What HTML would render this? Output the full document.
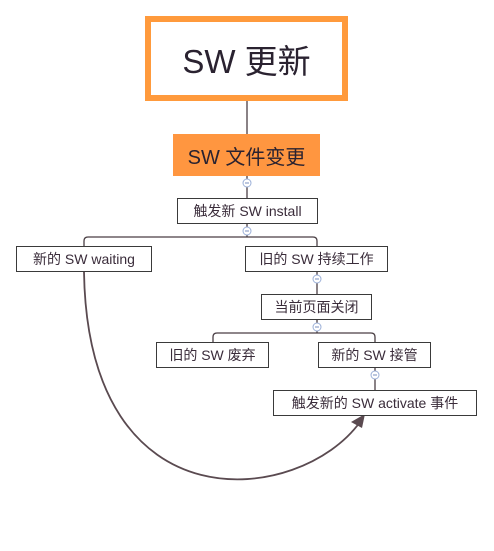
<!DOCTYPE html>
<html><head><meta charset="utf-8"><style>
body{margin:0;width:494px;height:551px;background:#fff;position:relative;overflow:hidden;font-family:"Liberation Sans","Noto Sans CJK SC",sans-serif;color:#3a2c3a}
.b{position:absolute;box-sizing:border-box;border:1px solid #3a3a3a;background:#fff;display:flex;align-items:center;justify-content:center;font-size:14px;white-space:nowrap}
</style></head><body>
<svg width="494" height="551" style="position:absolute;left:0;top:0">
<g stroke="#4a3f44" stroke-width="1.3" fill="none">
<line x1="247" y1="101" x2="247" y2="134"/>
<line x1="247" y1="176" x2="247" y2="198"/>
<line x1="247" y1="224" x2="247" y2="237"/>
<path d="M84,246 V241 Q84,237 88,237 H313 Q317,237 317,241 V246"/>
<line x1="317" y1="272" x2="317" y2="294"/>
<line x1="317" y1="320" x2="317" y2="333"/>
<path d="M213,342 V337 Q213,333 217,333 H371 Q375,333 375,337 V342"/>
<line x1="375" y1="368" x2="375" y2="390"/>
<path d="M84,272 C88,530 300,505 360,422" stroke-width="1.8" stroke="#5a4a50"/>
</g>
<polygon points="365,414 351,422 362,428" fill="#5a4a50"/>
<g fill="#fff" stroke="#9bb0d8" stroke-width="1">
<circle cx="247" cy="183" r="4"/><circle cx="247" cy="231" r="4"/>
<circle cx="317" cy="279" r="4"/><circle cx="317" cy="327" r="4"/><circle cx="375" cy="375" r="4"/>
</g>
<g stroke="#7a8fbf" stroke-width="1">
<line x1="245" y1="183" x2="249" y2="183"/><line x1="245" y1="231" x2="249" y2="231"/>
<line x1="315" y1="279" x2="319" y2="279"/><line x1="315" y1="327" x2="319" y2="327"/><line x1="373" y1="375" x2="377" y2="375"/>
</g>
</svg>
<div class="b" style="left:145px;top:16px;width:203px;height:85px;border:6px solid #ff9a3c;font-size:33px;color:#2a2230">SW 更新</div>
<div class="b" style="left:173px;top:134px;width:147px;height:42px;border:none;background:#ff9640;font-size:20px;color:#2a2230">SW 文件变更</div>
<div class="b" style="left:177px;top:198px;width:141px;height:26px">触发新 SW install</div>
<div class="b" style="left:16px;top:246px;width:136px;height:26px">新的 SW waiting</div>
<div class="b" style="left:245px;top:246px;width:143px;height:26px">旧的 SW 持续工作</div>
<div class="b" style="left:261px;top:294px;width:111px;height:26px">当前页面关闭</div>
<div class="b" style="left:156px;top:342px;width:113px;height:26px">旧的 SW 废弃</div>
<div class="b" style="left:318px;top:342px;width:113px;height:26px">新的 SW 接管</div>
<div class="b" style="left:273px;top:390px;width:204px;height:26px">触发新的 SW activate 事件</div>
</body></html>
